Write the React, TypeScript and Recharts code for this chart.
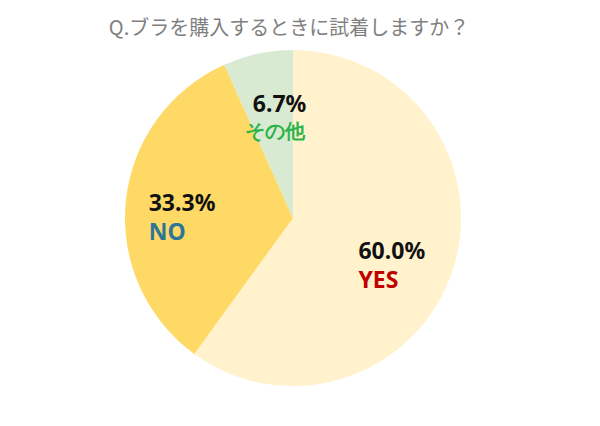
import React from "react";
import { PieChart, Pie, Cell } from "recharts";

const answers = ["YES", "NO", "その他"];
const shares = [60.0, 33.3, 6.7];
const sliceColors = ["#FFF2CC", "#FFD966", "#D9EAD3"];
const nameColors = ["#C00000", "#2E7596", "#2DB34A"];

const data = answers.map((name, i) => ({ name, value: shares[i] }));

// per-slice nudges [dx, dy, line gap] so the label blocks sit where the original put them
const labelNudge = [
  [-6, 13, 29],
  [0, 10, 29],
  [9, 8, 26],
];

const RADIAN = Math.PI / 180;

const renderLabel = (props: any) => {
  const { cx, cy, midAngle, outerRadius, index } = props;
  const [ndx, ndy, gap] = labelNudge[index];
  const r = outerRadius * 0.66;
  const x = cx + r * Math.cos(-midAngle * RADIAN) + ndx;
  const y = cy + r * Math.sin(-midAngle * RADIAN) + ndy;
  const pct = shares[index].toFixed(1) + "%";
  const left = x - (pct.length === 5 ? 34 : 26);
  const nameLeft = index === 2 ? left - 8 : left;
  return (
    <text
      x={left}
      y={y}
      fontFamily="'Noto Sans', sans-serif"
      fontWeight={700}
      fontSize={23}
      textAnchor="start"
    >
      <tspan x={left} dy={-6} fill="#111">
        {pct}
      </tspan>
      <tspan x={nameLeft} dy={gap} fill={nameColors[index]} fontSize={index === 2 ? 20 : 23}>
        {answers[index]}
      </tspan>
    </text>
  );
};

export default function App() {
  return (
    <div style={{ position: "relative", width: 584, height: 410, background: "#fff" }}>
      <div
        style={{
          position: "absolute",
          top: 4,
          left: 0,
          width: 562,
          textAlign: "center",
          fontFamily: "'Noto Sans CJK JP', sans-serif",
          fontSize: 20,
          color: "#7f7f7f",
        }}
      >
        Q.ブラを購入するときに試着しますか？
      </div>
      <PieChart width={584} height={410} margin={{ top: 0, right: 0, bottom: 0, left: 0 }}>
        <Pie
          data={data}
          dataKey="value"
          nameKey="name"
          cx={285}
          cy={210}
          outerRadius={168}
          startAngle={90}
          endAngle={-270}
          stroke="none"
          labelLine={false}
          label={renderLabel}
          isAnimationActive={false}
        >
          {data.map((d, i) => (
            <Cell key={d.name} fill={sliceColors[i]} />
          ))}
        </Pie>
      </PieChart>
    </div>
  );
}
